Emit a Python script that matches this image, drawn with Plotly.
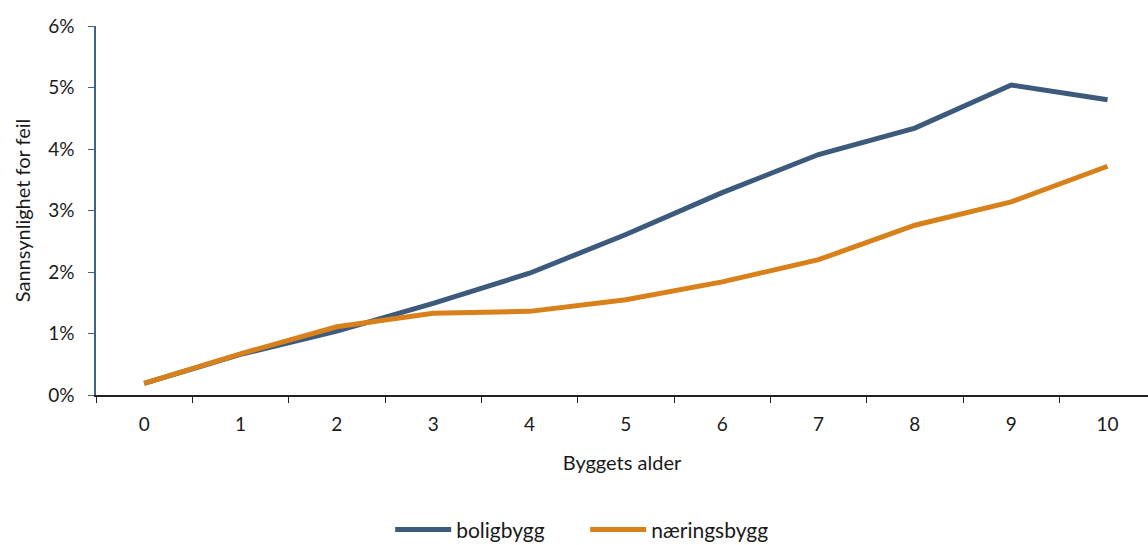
import plotly.graph_objects as go

# Byggets alder (år)
alder = ["0", "1", "2", "3", "4", "5", "6", "7", "8", "9", "10"]

# Sannsynlighet for feil (andel)
boligbygg = [0.0019, 0.0066, 0.0104, 0.0149, 0.0198, 0.0261, 0.0329, 0.0391, 0.0434, 0.0504, 0.0480]
naeringsbygg = [0.0019, 0.0067, 0.0111, 0.0133, 0.0136, 0.0155, 0.0184, 0.0220, 0.0276, 0.0314, 0.0372]

y_ticks = [0, 0.01, 0.02, 0.03, 0.04, 0.05, 0.06]

BLUE = "#3B5A7C"
ORANGE = "#D8801A"
FONT = "Lato"

fig = go.Figure()
fig.add_trace(go.Scatter(
    x=alder, y=boligbygg, name="boligbygg", mode="lines",
    line=dict(color=BLUE, width=5),
))
fig.add_trace(go.Scatter(
    x=alder, y=naeringsbygg, name="næringsbygg", mode="lines",
    line=dict(color=ORANGE, width=5),
))

fig.update_layout(
    width=1148, height=545,
    margin=dict(l=96, r=0, t=26, b=150),
    paper_bgcolor="white", plot_bgcolor="white",
    font=dict(family=FONT, size=19, color="#1a1a1a"),
    showlegend=True,
    legend=dict(
        orientation="h", x=0.465, xanchor="center",
        yref="container", y=0.028, yanchor="middle",
        font=dict(size=21), itemwidth=56, entrywidth=124, tracegroupgap=0,
    ),
    xaxis=dict(
        type="category", range=[-0.5, 10.42],
        tickson="boundaries", ticks="outside", ticklen=6, tickcolor="#222222",
        showline=True, linecolor="#222222", linewidth=1.5,
        showgrid=False, zeroline=False,
        ticklabelstandoff=11,
        title=dict(text="Byggets alder", font=dict(size=20), standoff=22),
    ),
    yaxis=dict(
        range=[0, 0.06], tickvals=y_ticks, tickformat=".0%",
        ticks="outside", ticklen=6, tickcolor="#41638A",
        showline=True, linecolor="#41638A", linewidth=1.5,
        showgrid=False, zeroline=False,
        ticklabelstandoff=10,
        title=dict(text="Sannsynlighet for feil", font=dict(size=20), standoff=12),
    ),
)

fig.write_html("out.html")
